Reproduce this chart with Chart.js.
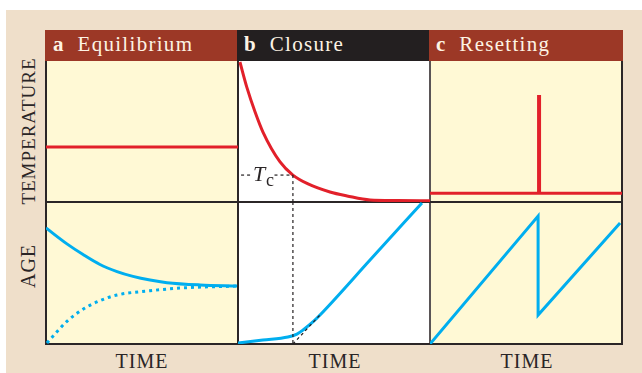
<!DOCTYPE html>
<html>
<head>
<meta charset="utf-8">
<script src="https://cdn.jsdelivr.net/npm/chart.js@4.4.1/dist/chart.umd.min.js"></script>
<style>
  html,body{margin:0;padding:0;background:#fff;}
  body{width:642px;height:373px;position:relative;overflow:hidden;font-family:"Liberation Serif","Times New Roman",serif;}
  .abs{position:absolute;}
  #bg{left:6px;top:10px;width:636px;height:363px;background:#efdfca;}
  .hdr{top:30px;height:31px;color:#fdf3e4;font-size:21px;line-height:21px;letter-spacing:1.3px;white-space:nowrap;}
  .hdr span.k{font-weight:bold;letter-spacing:0;}
  .hdr span.w{margin-left:14px;}
  .hdr .in{position:absolute;top:4px;}
  .lab{font-size:19px;line-height:19px;letter-spacing:1px;color:#2a2526;white-space:nowrap;}
  .lab.big{font-size:20px;line-height:20px;}
  .line{background:#2b2627;}
  canvas{position:absolute;}
</style>
</head>
<body>
<div id="bg" class="abs"></div>

<!-- panel backgrounds -->
<div class="abs" style="left:45px;top:61px;width:193px;height:283px;background:#fff9d5;"></div>
<div class="abs" style="left:238px;top:61px;width:192px;height:283px;background:#ffffff;"></div>
<div class="abs" style="left:430px;top:61px;width:192px;height:283px;background:#fff9d5;"></div>

<!-- headers -->
<div class="abs hdr" style="left:45px;width:192px;background:#9c3826;"><div class="in" style="left:8px;"><span class="k">a</span><span class="w">Equilibrium</span></div></div>
<div class="abs hdr" style="left:237px;width:192px;background:#231f20;"><div class="in" style="left:7px;"><span class="k">b</span><span class="w">Closure</span></div></div>
<div class="abs hdr" style="left:429px;width:194px;background:#9c3826;"><div class="in" style="left:7px;"><span class="k">c</span><span class="w">Resetting</span></div></div>

<!-- borders -->
<div class="abs line" style="left:45px;top:61px;width:2px;height:284px;"></div>
<div class="abs line" style="left:237px;top:61px;width:2px;height:284px;"></div>
<div class="abs line" style="left:429px;top:61px;width:2px;height:284px;background:#5a5556;"></div>
<div class="abs line" style="left:621px;top:61px;width:2px;height:284px;"></div>
<div class="abs line" style="left:45px;top:201px;width:578px;height:2px;"></div>
<div class="abs line" style="left:45px;top:343px;width:578px;height:2px;"></div>

<!-- axis labels -->
<div class="abs lab" style="left:28px;top:131px;transform:translate(-50%,-50%) rotate(-90deg);">TEMPERATURE</div>
<div class="abs lab big" style="left:28px;top:266px;transform:translate(-50%,-50%) rotate(-90deg);">AGE</div>
<div class="abs lab big" style="left:142px;top:351px;transform:translateX(-50%);">TIME</div>
<div class="abs lab big" style="left:335px;top:351px;transform:translateX(-50%);">TIME</div>
<div class="abs lab big" style="left:527px;top:351px;transform:translateX(-50%);">TIME</div>

<!-- charts -->
<canvas id="aT" width="192" height="141" style="left:46px;top:61px;"></canvas>
<canvas id="aB" width="192" height="142" style="left:46px;top:202px;"></canvas>
<canvas id="bT" width="192" height="141" style="left:238px;top:61px;"></canvas>
<canvas id="bB" width="192" height="142" style="left:238px;top:202px;"></canvas>
<canvas id="cT" width="192" height="141" style="left:430px;top:61px;"></canvas>
<canvas id="cB" width="192" height="142" style="left:430px;top:202px;"></canvas>

<!-- Tc label -->
<div class="abs" style="left:253px;top:163px;font-size:22px;line-height:22px;font-style:italic;color:#2a2526;">T</div>
<div class="abs" style="left:266px;top:171px;font-size:18px;line-height:18px;color:#2a2526;">c</div>

<script>
// ---- data (time and value both on 0–100 scales) ----
// Panel a: Equilibrium
const aTempTime = [0, 100];
const aTempVal  = [39, 39];
const aAgeSolidTime = [0, 10.9, 19.3, 28.1, 37, 45.3, 54.2, 63, 80.2, 99.5];
const aAgeSolidVal  = [81.7, 70.5, 63, 56, 51, 47.6, 45, 43.2, 41.6, 40.8];
const aAgeDotTime = [0.5, 6.3, 10.9, 19.3, 28.1, 37, 54.2, 71.4, 99.5];
const aAgeDotVal  = [0.7, 9.5, 16, 24.5, 30.5, 34.5, 37.5, 39.5, 40.8];

// Panel b: Closure
const bTempTime = [1, 4.7, 8.9, 13, 21.9, 28.6, 36.5, 47.9, 56.8, 68.8, 82.8, 100];
const bTempVal  = [99.3, 80.9, 63.8, 49.6, 28.4, 19.1, 12.8, 7.1, 4.3, 1.4, 1.0, 0.8];
const bAgeTime = [0, 13, 26, 30.7, 33.9, 39, 42.7, 69, 95.8];
const bAgeVal  = [0.7, 2.8, 4.9, 7, 9.9, 15.5, 20.4, 59.5, 99.3];
const closureTime = 28.6;   // Tc time
const closureTemp = 19.1;   // Tc level
const bTcDash1Time = [1.6, 7.5];
const bTcDash2Time = [19, 28.6];
const bExtrapTime = [28.6, 42.7];
const bExtrapVal  = [0, 20.4];

// Panel c: Resetting
const cTempTime = [0, 100];
const cTempVal  = [6.2, 6.2];
const cSpikeTime = [56.8, 56.8];
const cSpikeVal  = [6.2, 75.9];
const cAgeTime = [0, 56.3, 56.3, 99];
const cAgeVal  = [0, 90.1, 20.4, 85.2];

// ---- styles ----
const RED = '#e2202a', BLUE = '#00aeef', INK = '#231f20';
const pts = (xs, ys) => xs.map((x, i) => ({x, y: ys[i]}));

function ds(data, color, width, extra) {
  return Object.assign({
    data, borderColor: color, borderWidth: width, pointRadius: 0,
    fill: false, tension: 0, clip: false, borderCapStyle: 'butt', borderJoinStyle: 'miter'
  }, extra || {});
}

function chart(id, datasets) {
  return new Chart(document.getElementById(id), {
    type: 'line',
    data: { datasets },
    options: {
      responsive: false, animation: false, events: [],
      layout: { padding: 0 },
      plugins: { legend: { display: false }, tooltip: { enabled: false } },
      scales: {
        x: { type: 'linear', min: 0, max: 100, display: false },
        y: { type: 'linear', min: 0, max: 100, display: false }
      }
    }
  });
}

const smooth = { cubicInterpolationMode: 'monotone' };
const dash = { borderDash: [3, 3] };

chart('aT', [ ds(pts(aTempTime, aTempVal), RED, 3) ]);
chart('aB', [
  ds(pts(aAgeSolidTime, aAgeSolidVal), BLUE, 3, smooth),
  ds(pts(aAgeDotTime, aAgeDotVal), BLUE, 3, Object.assign({ borderDash: [3, 4] }, smooth))
]);
chart('bT', [
  ds(pts(bTcDash1Time, [closureTemp, closureTemp]), INK, 1.2, dash),
  ds(pts(bTcDash2Time, [closureTemp, closureTemp]), INK, 1.2, dash),
  ds(pts([closureTime, closureTime], [closureTemp, 0]), INK, 1.2, dash),
  ds(pts(bTempTime, bTempVal), RED, 3, smooth)
]);
chart('bB', [
  ds(pts([closureTime, closureTime], [100, 0]), INK, 1.2, dash),
  ds(pts(bExtrapTime, bExtrapVal), INK, 1.2, dash),
  ds(pts(bAgeTime, bAgeVal), BLUE, 3, smooth)
]);
chart('cT', [
  ds(pts(cTempTime, cTempVal), RED, 3),
  ds(pts(cSpikeTime, cSpikeVal), RED, 4)
]);
chart('cB', [ ds(pts(cAgeTime, cAgeVal), BLUE, 3) ]);
</script>
</body>
</html>
